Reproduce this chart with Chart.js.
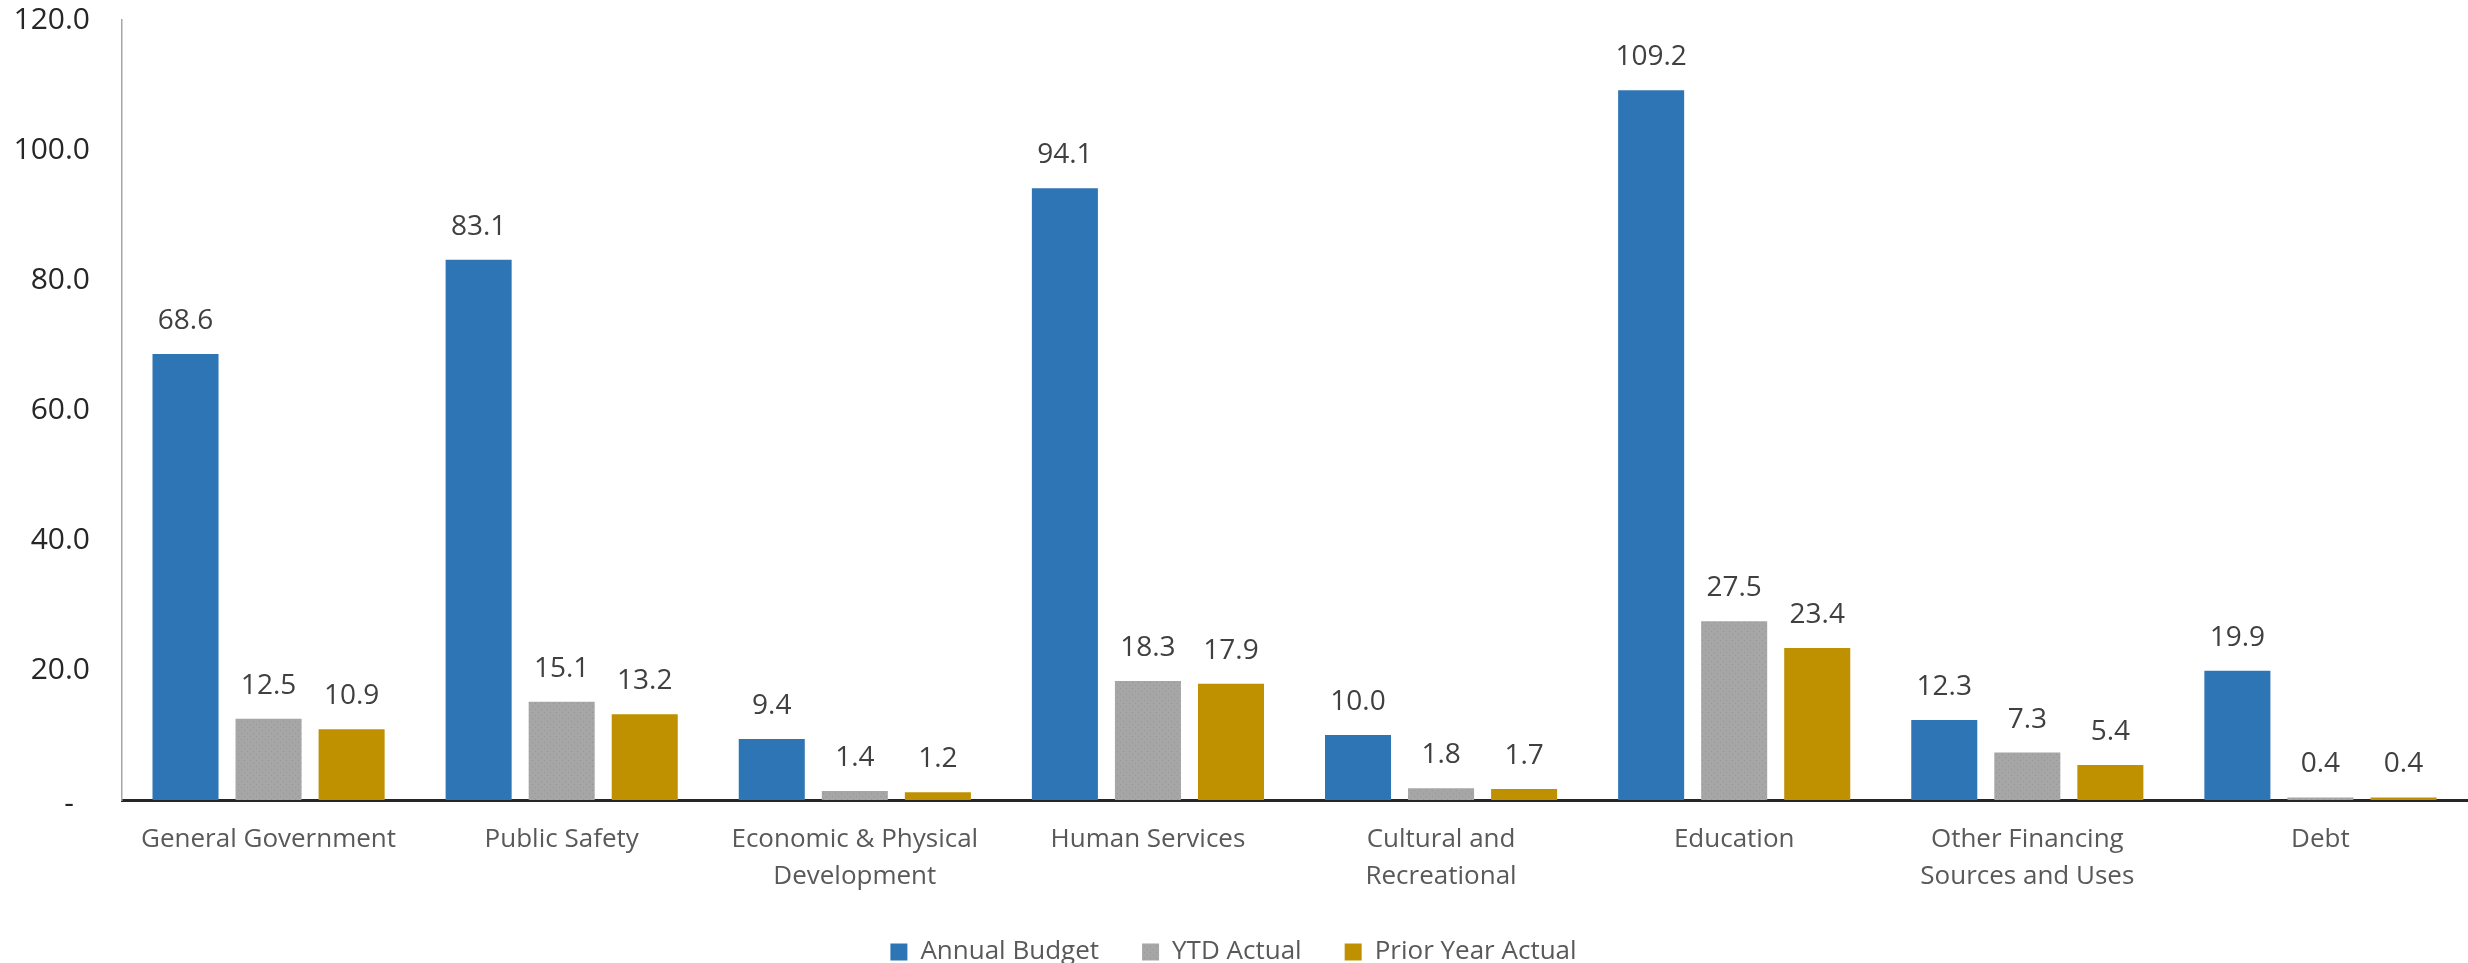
<!DOCTYPE html>
<html>
<head>
<meta charset="utf-8">
<script src="https://cdn.jsdelivr.net/npm/chart.js@4/dist/chart.umd.min.js"></script>
<style>
  html, body { margin: 0; padding: 0; background: #fff; overflow: hidden; }
  #wrap { position: relative; width: 2468px; height: 975px; }
</style>
</head>
<body>
<div id="wrap"><canvas id="chart"></canvas></div>
<script>
const categories = [
    'General Government',
    'Public Safety',
    ['Economic & Physical', 'Development'],
    'Human Services',
    ['Cultural and', 'Recreational'],
    'Education',
    ['Other Financing', 'Sources and Uses'],
    'Debt'
];
const annualBudget = [68.6, 83.1, 9.4, 94.1, 10.0, 109.2, 12.3, 19.9];
const ytdActual = [12.5, 15.1, 1.4, 18.3, 1.8, 27.5, 7.3, 0.4];
const priorYearActual = [10.9, 13.2, 1.2, 17.9, 1.7, 23.4, 5.4, 0.4];
const yTicks = [0, 20, 40, 60, 80, 100, 120];

const FONT = "'Open Sans', 'Noto Sans', sans-serif";

// fine dotted texture for the grey bars
function dotPattern() {
    const c = document.createElement('canvas');
    c.width = 6; c.height = 6;
    const g = c.getContext('2d');
    g.fillStyle = '#a6a6a6';
    g.fillRect(0, 0, 6, 6);
    g.fillStyle = '#959595';
    g.fillRect(1, 1, 1, 1);
    g.fillRect(4, 4, 1, 1);
    return g.createPattern(c, 'repeat');
}

// value labels above each bar, plus the accounting-style "-" for zero
const barLabels = {
    id: 'barLabels',
    afterDatasetsDraw(chart) {
        const ctx = chart.ctx;
        ctx.save();
        ctx.font = '28px ' + FONT;
        ctx.fillStyle = '#404040';
        ctx.textAlign = 'center';
        ctx.textBaseline = 'middle';
        chart.data.datasets.forEach((ds, i) => {
            chart.getDatasetMeta(i).data.forEach((bar, j) => {
                ctx.fillText(ds.data[j].toFixed(1), bar.x, bar.y - 33);
            });
        });
        ctx.font = '30px ' + FONT;
        ctx.fillStyle = '#262626';
        ctx.fillText('-', chart.chartArea.left - 53, chart.scales.y.getPixelForValue(0) + 4);
        ctx.restore();
    }
};

new Chart(document.getElementById('chart'), {
    type: 'bar',
    data: {
        labels: categories,
        datasets: [
            { label: 'Annual Budget', data: annualBudget, backgroundColor: '#2e75b6' },
            { label: 'YTD Actual', data: ytdActual, backgroundColor: dotPattern() },
            { label: 'Prior Year Actual', data: priorYearActual, backgroundColor: '#bf9000' }
        ]
    },
    options: {
        responsive: true,
        maintainAspectRatio: false,
        animation: false,
        devicePixelRatio: 1,
        categoryPercentage: 0.85,
        barPercentage: 0.795,
        layout: { padding: { top: 20, left: 0, right: 1, bottom: 0 } },
        plugins: {
            tooltip: { enabled: false },
            legend: {
                position: 'bottom',
                labels: {
                    boxWidth: 17,
                    boxHeight: 17,
                    padding: 43,
                    color: '#595959',
                    font: { family: FONT, size: 26 }
                }
            }
        },
        scales: {
            x: {
                grid: { display: false, drawTicks: false },
                border: { display: true, color: '#262626', width: 3 },
                ticks: {
                    color: '#595959',
                    padding: 21,
                    maxRotation: 0,
                    autoSkip: false,
                    font: { family: FONT, size: 26, lineHeight: 1.42 }
                },
                afterFit: s => { s.height = 96; }
            },
            y: {
                min: 0,
                max: 120,
                grid: { display: false, drawTicks: false },
                border: { display: true, color: '#a6a6a6', width: 1.5 },
                afterBuildTicks: s => { s.ticks = yTicks.map(v => ({ value: v })); },
                ticks: {
                    color: '#262626',
                    padding: 32,
                    font: { family: FONT, size: 30 },
                    callback: v => v === 0 ? '' : v.toFixed(1)
                },
                afterFit: s => { s.width = 122; s.paddingTop = 0; s.paddingBottom = 0; }
            }
        }
    },
    plugins: [barLabels]
});
</script>
</body>
</html>
